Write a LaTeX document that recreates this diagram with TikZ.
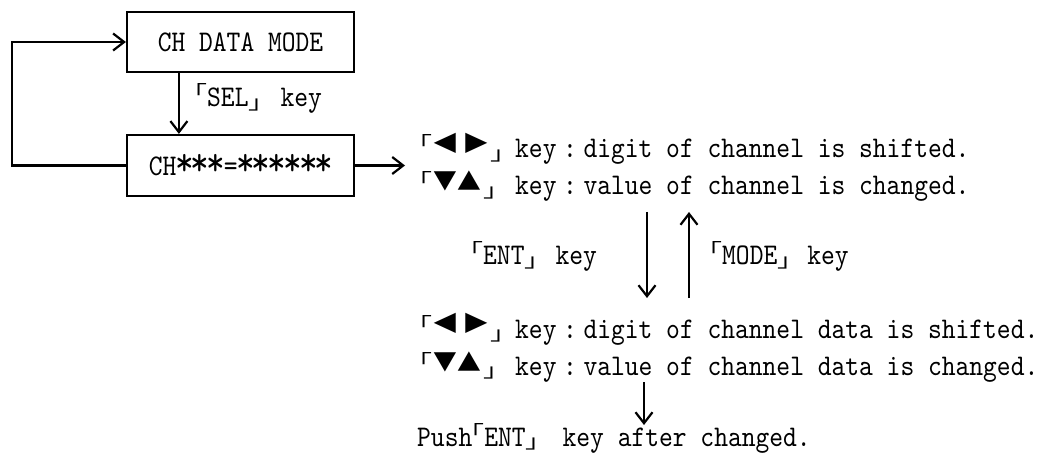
\documentclass[tikz,border=0pt]{standalone}
\usepackage{fontspec}
\newfontfamily\cjk{Noto Sans CJK JP}
\newfontfamily\mono{lmmono10-regular}[Extension=.otf, FakeStretch=0.875]
\usetikzlibrary{arrows.meta}
% text size used throughout
\newcommand\tf{\mono\fontsize{30}{34}\selectfont}
\newcommand\cjkf{\cjk\fontsize{27}{30}\selectfont}
% large asterisk of one monospace cell
\newcommand\stR{\makebox[0.525em]{\scalebox{1.35}{*}}}
% compressed corner brackets and key symbols
\newcommand\LB{\makebox[12pt][r]{\raisebox{7pt}{\scalebox{1}[0.7]{\cjkf 「}}}}
\newcommand\RB{\makebox[14pt][l]{\raisebox{-2.5pt}{\scalebox{1}[0.7]{\cjkf 」}}}}
\newcommand\kL{\raisebox{6.5pt}{\scalebox{1}[0.8]{\cjkf ◀}}}
\newcommand\kR{\raisebox{6.5pt}{\scalebox{1}[0.8]{\cjkf ▶}}}
\newcommand\kD{\raisebox{5pt}{\scalebox{0.88}{\cjkf ▼}}}
\newcommand\kU{\raisebox{4pt}{\scalebox{0.88}{\cjkf ▲}}}
\newcommand\keyLR{\makebox[95pt][l]{\LB\kL\kern3pt\kR\kern1pt\RB}}
\newcommand\keyDU{\makebox[95pt][l]{\LB\kern1pt\kD\kern1pt\kU\kern2pt\RB}}
\newcommand\col{\makebox[27pt]{:}}
\begin{document}
\begin{tikzpicture}[x=1pt,y=-1pt,
  box/.style={draw, line width=2.2pt, minimum width=227pt, inner sep=0pt, font=\tf},
  txt/.style={inner sep=0pt, anchor=base west, font=\tf},
  arr/.style={line width=2.2pt, -{Straight Barb[length=11pt,width=17pt]}}]
\useasboundingbox (0,0) rectangle (1049,454);

% mode boxes
\node[box, minimum height=60pt] (mode) at (240.5,42) {CH DATA MODE};
\node[box, minimum height=61pt] (ch) at (240.5,165.5) {CH\stR\stR\stR=\stR\stR\stR\stR\stR\stR};

% return loop and SEL step
\coordinate (lp) at (12,165.5);
\draw[arr] (ch.west) -- (lp) |- (mode.west);
\draw[arr] ([xshift=53pt]mode.south west) -- ([xshift=53pt]ch.north west);
\node[txt] (sel) at (195,107) {\LB SEL\RB\kern18pt key};

% channel selection
\coordinate (chout) at (405,165.5);
\draw[arr] (ch.east) -- (chout);
\node[txt] (l1) at (420,158) {\keyLR key\col digit of channel is shifted.};
\node[txt] (l2) at (420,195) {\keyDU key\col value of channel is changed.};

% ENT / MODE transitions
\coordinate (dn1) at (647,212);
\coordinate (dn2) at (647,298);
\coordinate (up1) at (689,298);
\coordinate (up2) at (689,212);
\draw[arr] (dn1) -- (dn2);
\draw[arr] (up1) -- (up2);
\node[txt] (ent) at (471,265) {\LB ENT\RB\kern17pt key};
\node[txt] (md) at (710,265) {\LB MODE\RB\kern16pt key};

% channel data editing
\node[txt] (l3) at (420,338) {\keyLR key\col digit of channel data is shifted.};
\node[txt] (l4) at (420,375) {\keyDU key\col value of channel data is changed.};
\coordinate (dn3) at (644,382);
\coordinate (dn4) at (644,425);
\draw[arr] (dn3) -- (dn4);
\node[txt] (push) at (417,446) {Push\LB ENT\RB\kern23pt key after changed.};
\end{tikzpicture}
\end{document}
